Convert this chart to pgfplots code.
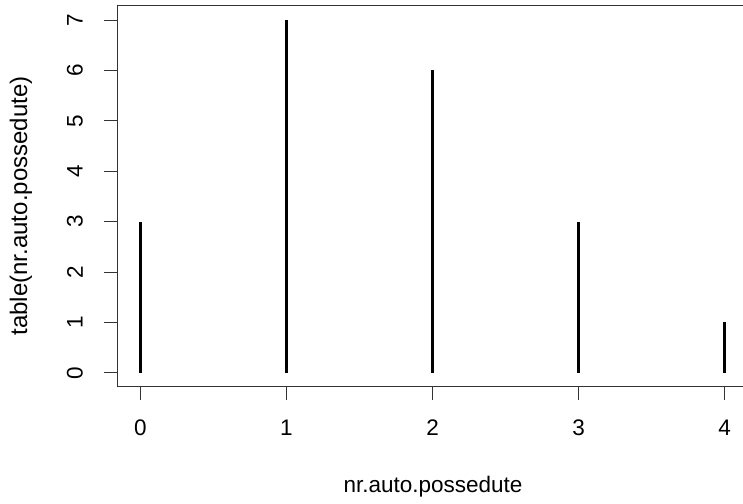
\documentclass[border=0pt]{standalone}
\usepackage{fontspec}
\setmainfont{Liberation Sans}
\usepackage{pgfplots}
\pgfplotsset{compat=1.18}

\pgfplotstableread{
n count
0 3
1 7
2 6
3 3
4 1
}\carcounts

\begin{document}
\begin{tikzpicture}[x=1bp,y=1bp]
\path[use as bounding box] (0,0) rectangle (743,504);
\clip (0,0) rectangle (743,504);
\begin{axis}[
  at={(117bp,117bp)}, anchor=south west,
  scale only axis,
  width=631bp, height=381bp,
  xmin=-0.16, xmax=4.16,
  ymin=-0.28, ymax=7.28,
  axis x line*=bottom, axis y line*=left,
  axis line style={black!80, line width=1bp},
  tick align=outside,
  major tick length=13bp,
  tick style={black!80, line width=1bp},
  xtick={0,1,2,3,4},
  ytick={0,1,2,3,4,5,6,7},
  /pgf/number format/assume math mode=true,
  ticklabel style={font=\fontsize{22.5bp}{27bp}\selectfont, text=black},
  xticklabel style={anchor=center, yshift=-28bp},
  yticklabel style={xshift=-29bp, rotate=90, anchor=center},
  clip=false,
]
\addplot[ycomb, black, line width=3bp, line cap=butt, mark=none] table[x=n, y=count] {\carcounts};
\draw[black!80, line width=1bp] (rel axis cs:0,1) -- (rel axis cs:1,1);
\end{axis}
\node[font=\fontsize{22.5bp}{27bp}\selectfont, anchor=base] at (433,11) {nr.auto.possedute};
\node[font=\fontsize{24bp}{28bp}\selectfont, rotate=90, anchor=center] at (21,298) {table(nr.auto.possedute)};
\end{tikzpicture}
\end{document}
